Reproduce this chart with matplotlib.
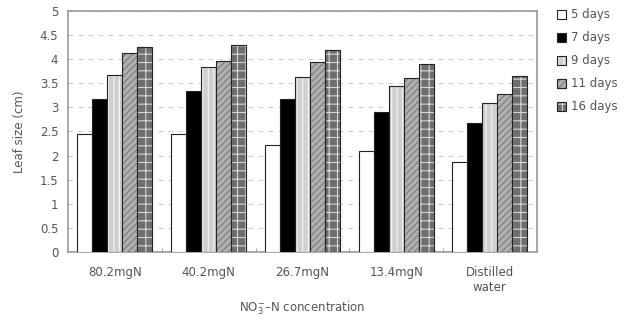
import numpy as np
import matplotlib.pyplot as plt
from matplotlib.ticker import MultipleLocator, FuncFormatter

plt.rcParams['font.family'] = ['DejaVu Sans']
plt.rcParams['hatch.linewidth'] = 0.8

# data
categories = ['80.2mgN', '40.2mgN', '26.7mgN', '13.4mgN', 'Distilled\nwater']
series = ['5 days', '7 days', '9 days', '11 days', '16 days']
d5 = [2.45, 2.45, 2.22, 2.10, 1.87]
d7 = [3.17, 3.33, 3.17, 2.91, 2.68]
d9 = [3.68, 3.84, 3.62, 3.44, 3.10]
d11 = [4.13, 3.96, 3.94, 3.60, 3.27]
d16 = [4.26, 4.29, 4.19, 3.89, 3.66]
values = [d5, d7, d9, d11, d16]

faces = ['white', 'black', '#cfcfcf', '#b0b0b0', '#6e6e6e']
hatches = [None, None, '|||', '/////', '++']
hatch_cols = ['#333333', '#333333', '#f4f4f4', '#7a7a7a', '#d8d8d8']

txt = '#555555'
fs = 8.5

fig = plt.figure(figsize=(6.42, 3.21), dpi=100)
ax = fig.add_axes([0.106, 0.215, 0.73, 0.751])

x = np.arange(len(categories))
w = 0.16
for i, (vals, name) in enumerate(zip(values, series)):
    bars = ax.bar(x + (i - 2) * w, vals, w, color=faces[i], edgecolor='#222222',
                  linewidth=0.8, label=name, zorder=3)
    if hatches[i]:
        for b in bars:
            b.set_hatch(hatches[i])
            b._hatch_color = plt.matplotlib.colors.to_rgba(hatch_cols[i])

ax.set_xlim(-0.5, len(categories) - 0.5)
ax.set_ylim(0, 5)
ax.yaxis.set_major_locator(MultipleLocator(0.5))
ax.yaxis.set_major_formatter(FuncFormatter(lambda v, p: f'{v:g}'))
ax.grid(axis='y', linestyle=(0, (4, 5)), color='#cccccc', linewidth=0.8, zorder=0)
ax.set_xticks(x)
ax.set_xticklabels(categories, fontsize=fs, color=txt)
ax.tick_params(axis='x', length=0, pad=10)
ax.tick_params(axis='y', length=0, labelsize=fs, labelcolor=txt, pad=7)
ax.set_xticks(np.arange(0.5, len(categories) - 0.5), minor=True)
ax.tick_params(axis='x', which='minor', length=3, direction='in', color='#999999')
for s in ax.spines.values():
    s.set_color('#999999')
    s.set_linewidth(1.2)

ax.set_ylabel('Leaf size (cm)', fontsize=fs, color=txt, labelpad=10)
ax.set_xlabel('NO$_3^{-}$–N concentration', fontsize=fs, color=txt, labelpad=4)

ax.legend(loc='upper left', bbox_to_anchor=(1.02, 1.055), frameon=False, fontsize=fs,
          labelcolor=txt, handlelength=0.8, handleheight=0.8, handletextpad=0.4,
          labelspacing=0.85)

fig.savefig('out.png', dpi=100)
